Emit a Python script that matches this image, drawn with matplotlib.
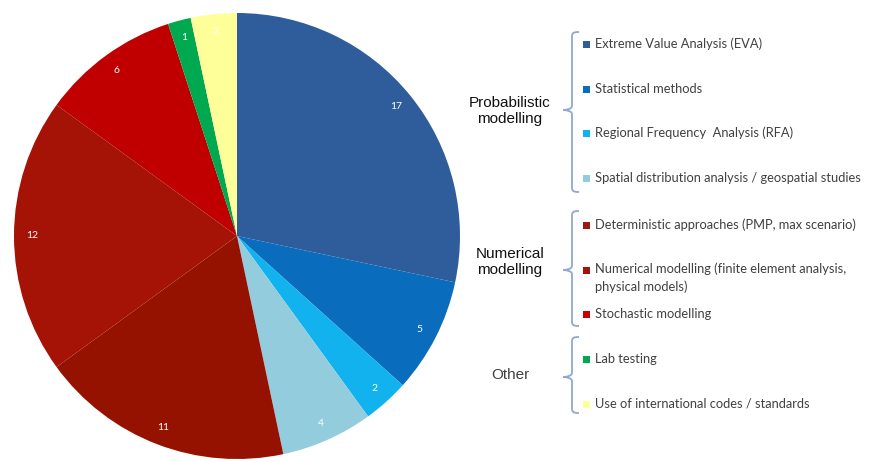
import matplotlib
matplotlib.use("Agg")
import matplotlib.pyplot as plt
from matplotlib.path import Path
from matplotlib.patches import PathPatch

# ----------------------
# Data
# ----------------------
methods = [
    "Extreme Value Analysis (EVA)",
    "Statistical methods",
    "Regional Frequency  Analysis (RFA)",
    "Spatial distribution analysis / geospatial studies",
    "Deterministic approaches (PMP, max scenario)",
    "Numerical modelling (finite element analysis,\nphysical models)",
    "Stochastic modelling",
    "Lab testing",
    "Use of international codes / standards",
]
counts = [17, 5, 2, 4, 11, 12, 6, 1, 2]
colors = ["#2F5C9B", "#0A6CBD", "#12B2EE", "#93CDDD",
          "#961200", "#A51206", "#C00000", "#00A84F", "#FFFF99"]
legend_colors = ["#2F5C9B", "#0A6CBD", "#12B2EE", "#93CDDD",
                 "#9C1A10", "#A51206", "#C80000", "#00A84F", "#FFFF99"]

groups = ["Probabilistic\nmodelling", "Numerical\nmodelling", "Other"]
group_dark = [True, True, False]

W, H = 885, 462
fig = plt.figure(figsize=(W / 100, H / 100), dpi=100)
plt.rcParams['font.family'] = ['Lato', 'DejaVu Sans']

# pie axes: centre (237, 236), radius 223 px
cx, cy, r = 237, 236, 223
ax = fig.add_axes([(cx - r) / W, (H - cy - r) / H, 2 * r / W, 2 * r / H])
ax.pie(counts, colors=colors, startangle=90, counterclock=False,
       radius=1.0, autopct=lambda p: f"{p * sum(counts) / 100:.0f}",
       pctdistance=0.92,
       textprops=dict(color="white", fontsize=7.5),
       wedgeprops=dict(linewidth=0))
ax.set_xlim(-1, 1)
ax.set_ylim(-1, 1)
ax.set_aspect("equal")
ax.axis("off")

# overlay axes in pixel coordinates for the legend part
ov = fig.add_axes([0, 0, 1, 1])
ov.set_xlim(0, W)
ov.set_ylim(H, 0)
ov.axis("off")

item_y = [44, 89, 133, 178, 225, 270, 314, 359, 404]
for label, col, y in zip(methods, legend_colors, item_y):
    ov.add_patch(plt.Rectangle((583, y - 3.5), 7, 7, color=col, lw=0))
    if "\n" in label:
        # two-line entry: first line centred on y
        ov.text(595, y - 7.5, label, fontsize=9.3, color="#404040",
                va="top", linespacing=1.55)
    else:
        ov.text(595, y, label, fontsize=9.3, color="#404040", va="center")


def brace(y0, y1, ym, x_end=579, x_line=572, x_tip=563):
    verts = [(x_end, y0),
             (x_line + 1, y0), (x_line, y0 + 1), (x_line, y0 + 5),
             (x_line, ym - 4),
             (x_line, ym - 1), (x_tip + 3, ym), (x_tip, ym),
             (x_tip + 3, ym), (x_line, ym + 1), (x_line, ym + 4),
             (x_line, y1 - 5),
             (x_line, y1 - 1), (x_line + 1, y1), (x_end, y1)]
    codes = [Path.MOVETO,
             Path.CURVE4, Path.CURVE4, Path.CURVE4,
             Path.LINETO,
             Path.CURVE4, Path.CURVE4, Path.CURVE4,
             Path.CURVE4, Path.CURVE4, Path.CURVE4,
             Path.LINETO,
             Path.CURVE4, Path.CURVE4, Path.CURVE4]
    ov.add_patch(PathPatch(Path(verts, codes), fill=False,
                           edgecolor="#8FA8D0", lw=1.3))


brace(32, 192, 110)
brace(211, 326, 270)
brace(337, 413, 377)

group_y = [111, 262, 375]
for g, dark, y in zip(groups, group_dark, group_y):
    ov.text(510, y, g, fontsize=11, ha="center", va="center",
            color="#111111" if dark else "#404040",
            linespacing=1.2, family=['Liberation Sans', 'DejaVu Sans'])

fig.savefig("out.png", dpi=100, facecolor="white")
